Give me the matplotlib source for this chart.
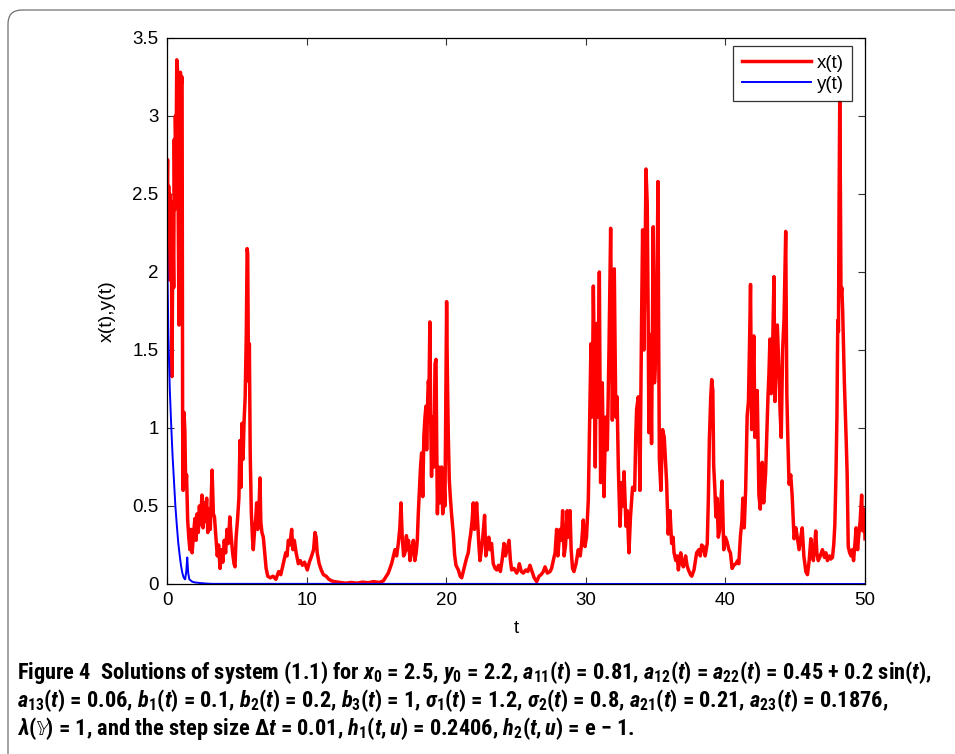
import matplotlib
matplotlib.use("Agg")
import matplotlib.pyplot as plt
from matplotlib import font_manager
from matplotlib.path import Path
from matplotlib.patches import PathPatch

# x(t) (red, thick)
T_X = [
    0.00, 0.04, 0.08, 0.12, 0.16, 0.20, 0.25, 0.30, 0.36, 0.42, 0.48, 0.52, 0.56, 0.60, 0.65, 0.70,
    0.75, 0.80, 0.86, 0.90, 0.96, 1.02, 1.08, 1.12, 1.16, 1.22, 1.28, 1.34, 1.40, 1.48, 1.56, 1.64,
    1.72, 1.80, 1.90, 2.00, 2.08, 2.16, 2.24, 2.32, 2.40, 2.50, 2.58, 2.66, 2.74, 2.84, 2.92, 3.00,
    3.10, 3.23, 3.32, 3.40, 3.50, 3.60, 3.70, 3.80, 3.90, 4.00, 4.10, 4.20, 4.30, 4.40, 4.50, 4.60,
    4.70, 4.80, 4.87, 4.95, 5.05, 5.15, 5.23, 5.30, 5.37, 5.45, 5.52, 5.60, 5.68, 5.74, 5.78, 5.84,
    5.90, 5.96, 6.04, 6.12, 6.18, 6.28, 6.36, 6.42, 6.50, 6.58, 6.66, 6.72, 6.80, 6.90, 7.00, 7.10,
    7.22, 7.40, 7.60, 7.80, 8.00, 8.15, 8.33, 8.50, 8.60, 8.69, 8.80, 8.93, 9.02, 9.12, 9.25, 9.41,
    9.55, 9.70, 9.85, 10.05, 10.20, 10.36, 10.50, 10.60, 10.68, 10.76, 10.90, 11.05, 11.20, 11.40,
    11.60, 11.80, 12.00, 12.40, 12.80, 13.20, 13.60, 14.00, 14.40, 14.80, 15.20, 15.50, 15.85, 16.09,
    16.33, 16.45, 16.57, 16.68, 16.76, 16.85, 16.95, 17.05, 17.15, 17.22, 17.30, 17.41, 17.52, 17.65,
    17.75, 17.85, 17.93, 18.00, 18.08, 18.16, 18.24, 18.32, 18.40, 18.48, 18.55, 18.60, 18.68, 18.72,
    18.77, 18.83, 18.89, 18.95, 19.02, 19.12, 19.20, 19.27, 19.32, 19.37, 19.45, 19.55, 19.67, 19.75,
    19.84, 19.91, 19.97, 20.03, 20.08, 20.15, 20.22, 20.30, 20.40, 20.51, 20.60, 20.70, 20.87, 21.00,
    21.11, 21.22, 21.35, 21.47, 21.58, 21.68, 21.75, 21.85, 21.94, 22.02, 22.10, 22.18, 22.26, 22.34,
    22.42, 22.52, 22.62, 22.75, 22.84, 22.95, 23.05, 23.15, 23.25, 23.37, 23.50, 23.62, 23.75, 23.88,
    24.00, 24.14, 24.25, 24.35, 24.50, 24.60, 24.69, 24.85, 25.05, 25.15, 25.24, 25.38, 25.52, 25.70,
    25.85, 26.00, 26.15, 26.30, 26.48, 26.65, 26.80, 26.96, 27.08, 27.25, 27.44, 27.55, 27.67, 27.80,
    27.91, 28.00, 28.15, 28.25, 28.34, 28.45, 28.55, 28.67, 28.77, 28.87, 28.95, 29.05, 29.15, 29.30,
    29.46, 29.60, 29.70, 29.82, 29.94, 30.05, 30.18, 30.24, 30.30, 30.37, 30.44, 30.50, 30.54, 30.60,
    30.68, 30.76, 30.85, 30.92, 30.97, 31.06, 31.18, 31.30, 31.42, 31.54, 31.66, 31.78, 31.90, 32.04,
    32.15, 32.24, 32.33, 32.45, 32.57, 32.65, 32.74, 32.88, 32.97, 33.09, 33.20, 33.35, 33.50, 33.58,
    33.64, 33.76, 33.88, 34.00, 34.07, 34.16, 34.24, 34.31, 34.40, 34.46, 34.52, 34.58, 34.65, 34.71,
    34.78, 34.83, 34.92, 35.03, 35.10, 35.17, 35.22, 35.27, 35.38, 35.50, 35.62, 35.70, 35.79, 35.90,
    36.03, 36.15, 36.25, 36.32, 36.45, 36.55, 36.63, 36.80, 36.90, 36.99, 37.15, 37.25, 37.35, 37.50,
    37.59, 37.75, 37.94, 38.10, 38.20, 38.30, 38.42, 38.55, 38.70, 38.78, 38.85, 38.95, 39.02, 39.10,
    39.16, 39.25, 39.32, 39.40, 39.49, 39.58, 39.66, 39.76, 39.88, 40.00, 40.12, 40.25, 40.36, 40.48,
    40.60, 40.75, 40.88, 40.96, 41.08, 41.18, 41.25, 41.35, 41.45, 41.56, 41.65, 41.72, 41.80, 41.88,
    41.96, 42.04, 42.12, 42.20, 42.28, 42.40, 42.50, 42.58, 42.64, 42.74, 42.88, 42.96, 43.05, 43.12,
    43.19, 43.28, 43.38, 43.48, 43.55, 43.62, 43.72, 43.82, 43.92, 44.00, 44.10, 44.20, 44.32, 44.40,
    44.48, 44.56, 44.68, 44.78, 44.92, 45.05, 45.15, 45.28, 45.40, 45.50, 45.62, 45.76, 45.88, 46.00,
    46.12, 46.22, 46.30, 46.40, 46.47, 46.55, 46.65, 46.80, 46.95, 47.10, 47.20, 47.31, 47.45, 47.55,
    47.67, 47.76, 47.84, 47.92, 47.99, 48.05, 48.10, 48.14, 48.19, 48.24, 48.28, 48.34, 48.40, 48.46,
    48.52, 48.60, 48.66, 48.72, 48.80, 48.90, 49.00, 49.10, 49.18, 49.28, 49.36, 49.47, 49.55, 49.65,
    49.76, 49.84, 49.92, 49.96, 50.00,
]
X_VALUES = [
    2.50, 2.72, 2.20, 2.55, 1.95, 2.50, 2.05, 2.45, 1.33, 2.30, 1.90, 2.85, 2.40, 3.00, 2.75, 3.36,
    3.30, 2.40, 1.66, 3.10, 3.28, 3.20, 3.25, 1.03, 0.60, 1.10, 0.98, 0.62, 0.70, 0.41, 0.30, 0.22,
    0.35, 0.20, 0.32, 0.42, 0.28, 0.45, 0.33, 0.50, 0.38, 0.57, 0.36, 0.52, 0.40, 0.55, 0.33, 0.48,
    0.35, 0.73, 0.45, 0.43, 0.30, 0.18, 0.25, 0.10, 0.22, 0.14, 0.28, 0.20, 0.35, 0.26, 0.43, 0.30,
    0.20, 0.13, 0.11, 0.30, 0.41, 0.55, 0.92, 0.62, 1.03, 0.80, 1.04, 1.20, 1.60, 2.15, 2.12, 1.30,
    1.54, 0.84, 0.46, 0.30, 0.22, 0.35, 0.42, 0.52, 0.35, 0.45, 0.68, 0.40, 0.33, 0.30, 0.20, 0.10,
    0.05, 0.04, 0.05, 0.03, 0.08, 0.06, 0.13, 0.20, 0.18, 0.28, 0.25, 0.35, 0.22, 0.28, 0.20, 0.13,
    0.15, 0.12, 0.14, 0.09, 0.14, 0.18, 0.22, 0.33, 0.30, 0.20, 0.13, 0.09, 0.06, 0.05,
    0.03, 0.02, 0.015, 0.01, 0.005, 0.01, 0.005, 0.012, 0.008, 0.015, 0.01, 0.02, 0.07, 0.13,
    0.22, 0.18, 0.26, 0.36, 0.52, 0.30, 0.18, 0.20, 0.31, 0.22, 0.28, 0.15, 0.22, 0.28,
    0.15, 0.20, 0.28, 0.45, 0.60, 0.75, 0.84, 0.56, 0.95, 1.07, 1.14, 0.86, 1.20, 1.30,
    1.25, 1.68, 1.05, 0.69, 1.07, 0.75, 1.41, 1.44, 0.90, 0.45, 0.75, 0.52, 0.75, 0.45,
    0.65, 0.50, 1.20, 1.81, 1.37, 0.95, 0.67, 0.55, 0.43, 0.32, 0.19, 0.12, 0.09, 0.05,
    0.04, 0.08, 0.13, 0.17, 0.20, 0.28, 0.32, 0.40, 0.52, 0.35, 0.42, 0.52, 0.39, 0.25,
    0.15, 0.22, 0.30, 0.44, 0.18, 0.24, 0.30, 0.22, 0.26, 0.13, 0.10, 0.09, 0.12, 0.08,
    0.15, 0.26, 0.18, 0.22, 0.28, 0.15, 0.09, 0.10, 0.07, 0.09, 0.13, 0.08, 0.07, 0.09,
    0.08, 0.12, 0.08, 0.04, 0.015, 0.05, 0.06, 0.08, 0.11, 0.07, 0.08, 0.10, 0.15, 0.20,
    0.35, 0.18, 0.35, 0.28, 0.47, 0.18, 0.25, 0.47, 0.30, 0.47, 0.22, 0.10, 0.08, 0.13,
    0.22, 0.18, 0.26, 0.41, 0.24, 0.30, 0.54, 0.85, 1.14, 1.54, 1.07, 1.50, 1.91, 1.50,
    0.75, 1.67, 1.07, 1.55, 2.00, 0.65, 1.29, 0.56, 1.07, 0.86, 1.50, 2.28, 1.05, 2.02,
    1.07, 1.20, 0.75, 0.37, 0.65, 0.50, 0.72, 0.37, 0.47, 0.20, 0.43, 0.62, 0.60, 0.95,
    1.12, 1.20, 0.60, 1.73, 2.27, 1.50, 2.00, 2.66, 2.44, 1.80, 0.97, 1.60, 1.40, 0.90,
    1.70, 2.29, 1.29, 1.50, 1.90, 2.58, 1.60, 0.80, 0.60, 0.99, 0.94, 0.80, 0.65, 0.32,
    0.47, 0.26, 0.30, 0.20, 0.15, 0.18, 0.09, 0.20, 0.13, 0.11, 0.18, 0.12, 0.09, 0.06,
    0.05, 0.09, 0.20, 0.22, 0.18, 0.25, 0.24, 0.18, 0.26, 0.55, 0.92, 1.20, 1.31, 1.24,
    0.76, 0.60, 0.43, 0.55, 0.30, 0.34, 0.50, 0.66, 0.22, 0.30, 0.27, 0.22, 0.20, 0.10,
    0.12, 0.13, 0.15, 0.13, 0.31, 0.40, 0.55, 0.36, 0.60, 1.08, 1.17, 1.50, 1.92, 0.99,
    1.30, 1.59, 0.94, 1.10, 1.24, 0.57, 0.48, 0.70, 0.78, 0.52, 0.71, 0.95, 1.20, 1.35,
    1.57, 1.22, 1.50, 1.97, 1.17, 1.40, 1.66, 1.41, 1.10, 0.94, 1.50, 1.70, 2.26, 1.22,
    0.90, 0.64, 0.70, 0.57, 0.29, 0.36, 0.30, 0.22, 0.30, 0.36, 0.18, 0.08, 0.06, 0.15,
    0.29, 0.20, 0.15, 0.25, 0.34, 0.20, 0.15, 0.18, 0.22, 0.17, 0.20, 0.15, 0.18, 0.16,
    0.17, 0.25, 0.38, 0.70, 1.08, 1.69, 1.62, 2.40, 3.09, 2.50, 1.85, 1.90, 1.75, 1.52,
    1.30, 1.08, 0.90, 0.71, 0.24, 0.20, 0.18, 0.22, 0.15, 0.26, 0.36, 0.22, 0.31, 0.40,
    0.57, 0.34, 0.40, 0.48, 0.29,
]

# y(t) (blue, thin)
T_Y = [0.00, 0.05, 0.10, 0.15, 0.20, 0.30, 0.40, 0.50, 0.60, 0.70, 0.80, 0.90, 1.00, 1.10, 1.20,
       1.30, 1.38, 1.45, 1.52, 1.60, 1.80, 2.00, 2.40, 2.80, 3.20, 50.0]
Y_VALUES = [2.20, 1.90, 1.60, 1.42, 1.25, 1.02, 0.82, 0.66, 0.50, 0.38, 0.27, 0.19, 0.12, 0.07, 0.04,
            0.03, 0.08, 0.17, 0.07, 0.03, 0.015, 0.01, 0.006, 0.003, 0.001, 0.0]

X_TICKS = [0, 10, 20, 30, 40, 50]
Y_TICKS = [0, 0.5, 1, 1.5, 2, 2.5, 3, 3.5]
Y_TICK_LABELS = ["0", "0.5", "1", "1.5", "2", "2.5", "3", "3.5"]

CAPTION = [
    r"Figure 4  Solutions of system (1.1) for $x_0$ = 2.5, $y_0$ = 2.2, $a_{11}(t)$ = 0.81, "
    r"$a_{12}(t)$ = $a_{22}(t)$ = 0.45 + 0.2 sin($t$),",
    r"$a_{13}(t)$ = 0.06, $b_1(t)$ = 0.1, $b_2(t)$ = 0.2, $b_3(t)$ = 1, $\sigma_1(t)$ = 1.2, "
    r"$\sigma_2(t)$ = 0.8, $a_{21}(t)$ = 0.21, $a_{23}(t)$ = 0.1876,",
    r"$\lambda(\mathbb{Y})$ = 1, and the step size $\Delta t$ = 0.01, $h_1(t,u)$ = 0.2406, "
    r"$h_2(t,u)$ = e $-$ 1.",
]


def first_font(names):
    for name in names:
        try:
            font_manager.findfont(font_manager.FontProperties(family=name), fallback_to_default=False)
            return name
        except ValueError:
            continue
    return "DejaVu Sans"


axis_font = first_font(["Liberation Sans", "Arial"])
caption_font = first_font(["Roboto Condensed", "Open Sans Condensed", "Liberation Sans Narrow", "Open Sans"])

plt.rcParams["font.family"] = axis_font
plt.rcParams["mathtext.fontset"] = "custom"
plt.rcParams["mathtext.rm"] = f"{caption_font}:bold"
plt.rcParams["mathtext.it"] = f"{caption_font}:italic:bold"
plt.rcParams["mathtext.bf"] = f"{caption_font}:bold"

W, H = 955, 754
fig = plt.figure(figsize=(W / 100, H / 100), dpi=100)

# rounded frame round the whole figure panel
frame = Path(
    [(8 / W, 0.0), (8 / W, 1 - 24 / H), (8 / W, 1 - 10 / H), (22 / W, 1 - 10 / H), (1.0, 1 - 10 / H)],
    [Path.MOVETO, Path.LINETO, Path.CURVE3, Path.CURVE3, Path.LINETO],
)
fig.patches.append(PathPatch(frame, transform=fig.transFigure, fill=False, edgecolor="#707070", linewidth=0.9))

ax = fig.add_axes([167 / W, 1 - 584 / H, (865 - 167) / W, (584 - 38) / H])
ax.plot(T_X, X_VALUES, color="#ff0000", linewidth=2.5, label="x(t)", solid_joinstyle="round")
ax.plot(T_Y, Y_VALUES, color="#0000ff", linewidth=1.4, label="y(t)")

ax.set_xlim(0, 50)
ax.set_ylim(0, 3.5)
ax.set_xticks(X_TICKS)
ax.set_yticks(Y_TICKS)
ax.set_yticklabels(Y_TICK_LABELS)
ax.tick_params(direction="in", length=5, width=0.8, top=True, right=True, labelsize=13.5, pad=6, color="#333333")
for spine in ax.spines.values():
    spine.set_linewidth(0.9)
ax.set_xlabel("t", fontsize=13.5, labelpad=8)
ax.set_ylabel("x(t),y(t)", fontsize=14, labelpad=12)

leg = ax.legend(loc="upper right", bbox_to_anchor=(0.9815, 0.985), fontsize=13.5, frameon=True, fancybox=False,
                handlelength=3.7, handletextpad=0.3, borderpad=0.45, labelspacing=0.2, borderaxespad=0.0)
leg.get_frame().set_edgecolor("black")
leg.get_frame().set_linewidth(0.9)

for i, line in enumerate(CAPTION):
    fig.text(17 / W, 1 - (673 + 27.5 * i) / H, line, fontsize=16.1, fontweight="bold",
             family=caption_font, va="center", ha="left")

fig.savefig("out.png", dpi=100)
